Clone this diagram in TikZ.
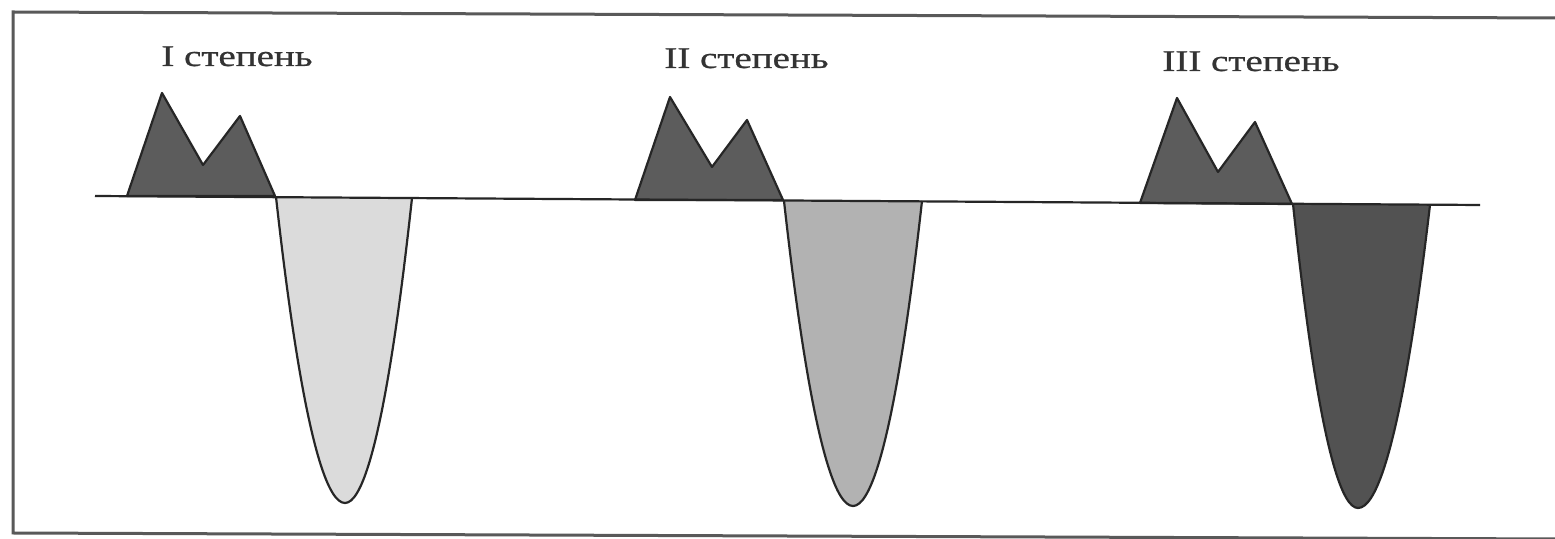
\documentclass[tikz,border=0pt]{standalone}
\usepackage{fontspec}
\setmainfont{Liberation Serif}
\newfontfamily\lblfont[FakeBold=0.8,FakeStretch=1.3]{Liberation Serif}
\definecolor{mtn}{gray}{0.36}
\definecolor{fillA}{gray}{0.86}
\definecolor{fillB}{gray}{0.70}
\definecolor{fillC}{gray}{0.32}
\definecolor{framegray}{gray}{0.35}
\begin{document}
\begin{tikzpicture}[x=0.5pt,y=-0.5pt,
  outl/.style={draw=black!85,line width=1.1pt,line join=round},
  lbl/.style={anchor=base west,inner sep=0pt,font=\lblfont\fontsize{15}{18}\selectfont,text=black!80}]
\useasboundingbox (0,0) rectangle (1555,539);
\fill[white] (0,0) rectangle (1555,539);
% frame (right side beyond the picture)
\draw[framegray,line width=1.5pt] (1560,18) -- (13,12) -- (13,533) -- (1560,539);
% labels
\node[lbl] (l1) at (161,66) {I степень};
\node[lbl] (l2) at (664,68) {II степень};
\node[lbl] (l3) at (1162,71) {III степень};
% group I
\filldraw[outl,fill=mtn] (127,196) -- (162,93) -- (203,165) -- (240,116) -- (275,196) -- cycle;
\filldraw[outl,fill=fillA] (276,197) parabola bend (345,503) (412,198);
% group II
\filldraw[outl,fill=mtn] (635,200) -- (670,97) -- (712,167) -- (747,120) -- (783,200) -- cycle;
\filldraw[outl,fill=fillB] (784,201) parabola bend (853,506) (922,201);
% group III
\filldraw[outl,fill=mtn] (1140,203) -- (1177,98) -- (1218,172) -- (1255,122) -- (1292,204) -- cycle;
\filldraw[outl,fill=fillC] (1293,204) parabola bend (1358,508) (1430,205);
% base line
\draw[black!85,line width=1.1pt] (95,196) -- (1480,205);
\end{tikzpicture}
\end{document}
